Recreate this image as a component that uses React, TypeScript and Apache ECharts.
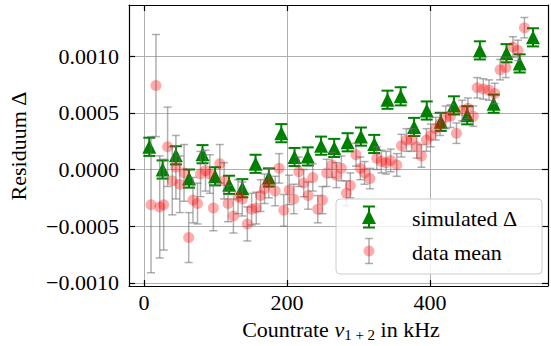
import React, { useEffect, useRef } from 'react';
import * as echarts from 'echarts';

// simulated Δ (green triangles)
const simX = [7.4, 26, 44.6, 63, 81.8, 99.4, 119, 137.5, 156, 174.6, 192, 210.5, 229, 247.6, 266, 284.7, 303.4, 322, 340.5, 359, 377.7, 395.4, 415, 433.4, 452, 469.7, 489, 507, 525.4, 544];
const simY = [0.0002, 0.0, 0.000125, -0.00008, 0.000135, -0.00006, -0.000135, -0.000165, 0.00005, -0.00007, 0.00032, 0.00011, 0.000115, 0.00021, 0.00019, 0.00024, 0.00029, 0.000225, 0.000615, 0.000645, 0.000375, 0.00052, 0.00042, 0.000565, 0.000478, 0.00105, 0.00058, 0.001025, 0.000935, 0.001165];
const simErr = [0.00008, 0.00008, 0.00008, 0.00008, 0.00008, 0.00008, 0.00008, 0.00008, 0.00008, 0.00008, 0.00008, 0.00008, 0.00008, 0.00008, 0.00008, 0.00008, 0.00008, 0.00008, 0.00008, 0.00008, 0.00008, 0.00008, 0.00008, 0.00008, 0.00008, 0.00008, 0.00008, 0.00008, 0.00008, 0.00008];

// data mean (red circles)
const meanX = [9.8, 16.7, 22, 27.5, 33, 39.5, 44.6, 50, 56, 62.5, 68.5, 74.8, 79, 86, 92, 97, 106, 112, 117.5, 125, 131.5, 137.5, 144.5, 150.5, 157, 163, 168.5, 174.6, 183.5, 189, 195.5, 203, 209.5, 216.5, 223.4, 229.5, 236, 243, 249.5, 255.5, 263, 269, 276, 283, 288.5, 296.5, 302.5, 308.5, 316, 325.5, 332, 338.5, 345, 353.5, 360, 367, 374, 381.5, 388, 395, 401, 408, 414, 422, 428.5, 437, 445, 453, 460.5, 466, 474.5, 482.5, 490.5, 498, 506, 516, 523, 532];
const meanY = [-0.00031, 0.00074, -0.00033, -0.00031, 0.0002, -0.0001, 0.00002, -0.00013, -0.00003, -0.0006, -0.00027, -0.0003, -0.00004, -0.00001, -0.00004, -0.00034, 0.00005, -0.0001, -0.0003, -0.00041, -0.00024, -0.00026, -0.00048, -0.00035, -0.00034, -0.00023, -0.00017, -0.00012, -0.00019, 0.00001, -0.00036, -0.00018, -0.00026, -0.00002, -0.00012, -0.00023, -0.00007, -0.00035, -0.00027, -0.00003, 0.00004, -0.00005, 0.00001, -0.00021, -0.00014, 0.00013, 0.00001, -0.00003, -0.00008, 0.0001, 0.00007, 0.00006, 0.00008, 0.00004, 0.00021, 0.00026, 0.00026, 0.0002, 0.00012, 0.00026, 0.0003, 0.00036, 0.0004, 0.00046, 0.00047, 0.00032, 0.00052, 0.00054, 0.00047, 0.00072, 0.00071, 0.0007, 0.00067, 0.00088, 0.0009, 0.00108, 0.00105, 0.00125];
const meanErr = [0.0006, 0.00045, 0.00045, 0.0004, 0.00035, 0.0003, 0.00028, 0.00025, 0.00025, 0.00022, 0.0002, 0.00018, 0.0002, 0.00018, 0.00017, 0.0002, 0.00017, 0.00016, 0.00016, 0.00015, 0.00015, 0.00015, 0.00015, 0.00014, 0.00014, 0.00014, 0.00013, 0.00013, 0.00013, 0.00013, 0.00014, 0.00013, 0.00013, 0.00013, 0.00012, 0.00012, 0.00012, 0.00012, 0.00012, 0.00012, 0.00011, 0.00011, 0.00011, 0.00011, 0.00011, 0.0001, 0.0001, 0.0001, 0.00009, 0.0001, 0.0001, 0.0001, 0.0001, 0.0001, 0.0001, 0.0001, 0.0001, 0.0001, 0.0001, 0.0001, 0.0001, 0.0001, 0.0001, 0.0001, 0.0001, 0.00009, 0.00009, 0.00009, 0.00009, 0.00009, 0.00009, 0.00009, 0.00009, 0.00009, 0.00009, 0.00009, 0.00009, 0.00009];

const xTicks = [0, 200, 400];
const yTicks = [-0.001, -0.0005, 0, 0.0005, 0.001];

const FONT = '"Liberation Serif", "Times New Roman", serif';
const GREEN = '#008000';
const RED = 'rgba(255,0,0,0.33)';
const GRAY = 'rgba(110,110,110,0.55)';

function errorBars(stroke: string, lineWidth: number, cap: number) {
  return (params: any, api: any) => {
    const x = api.value(0);
    const y = api.value(1);
    const e = api.value(2);
    const top = api.coord([x, y + e]);
    const bot = api.coord([x, y - e]);
    const hw = cap / 2;
    const style = { stroke, lineWidth };
    return {
      type: 'group',
      children: [
        { type: 'line', shape: { x1: top[0], y1: top[1], x2: bot[0], y2: bot[1] }, style },
        { type: 'line', shape: { x1: top[0] - hw, y1: top[1], x2: top[0] + hw, y2: top[1] }, style },
        { type: 'line', shape: { x1: bot[0] - hw, y1: bot[1], x2: bot[0] + hw, y2: bot[1] }, style },
      ],
    };
  };
}

export default function App() {
  const ref = useRef<HTMLDivElement>(null);
  useEffect(() => {
    if (!ref.current) return;
    const chart = echarts.init(ref.current, null, { renderer: 'svg' });
    const simData = simX.map((x, i) => [x, simY[i], simErr[i]]);
    const meanData = meanX.map((x, i) => [x, meanY[i], meanErr[i]]);
    const axisLineStyle = { color: '#000', width: 1.2 };
    const fmtY = (v: number) => {
      const s = Math.abs(v).toFixed(4);
      return v < -1e-12 ? '\u2212' + s : s;
    };
    const xMin = -21, xMax = 565, yMin = -0.001027, yMax = 0.00145;
    chart.setOption({
      animation: false,
      backgroundColor: '#fff',
      grid: { left: 129, right: 3, top: 5, bottom: 60, containLabel: false },
      xAxis: [
        {
          type: 'value', min: xMin, max: xMax, position: 'bottom',
          axisLine: { show: true, onZero: false, lineStyle: axisLineStyle },
          axisTick: { show: true, inside: true, length: 6, customValues: xTicks, lineStyle: axisLineStyle },
          axisLabel: { customValues: xTicks, margin: 5, fontSize: 22, fontFamily: FONT, color: '#000' },
          splitLine: { show: true, lineStyle: { color: '#b0b0b0', width: 1 } },
        },
        {
          type: 'value', min: xMin, max: xMax, position: 'top',
          axisLine: { show: true, onZero: false, lineStyle: axisLineStyle },
          axisTick: { show: true, inside: true, length: 6, customValues: xTicks, lineStyle: axisLineStyle },
          axisLabel: { show: false },
          splitLine: { show: false },
        },
      ],
      yAxis: [
        {
          type: 'value', min: yMin, max: yMax, position: 'left',
          axisLine: { show: true, onZero: false, lineStyle: axisLineStyle },
          axisTick: { show: true, inside: true, length: 6, customValues: yTicks, lineStyle: axisLineStyle },
          axisLabel: { customValues: yTicks, margin: 10, fontSize: 22, fontFamily: FONT, color: '#000', formatter: fmtY },
          splitLine: { show: true, lineStyle: { color: '#b0b0b0', width: 1 } },
        },
        {
          type: 'value', min: yMin, max: yMax, position: 'right',
          axisLine: { show: true, onZero: false, lineStyle: axisLineStyle },
          axisTick: { show: true, inside: true, length: 6, customValues: yTicks, lineStyle: axisLineStyle },
          axisLabel: { show: false },
          splitLine: { show: false },
        },
      ],
      series: [
        {
          type: 'custom', name: 'simErr', xAxisIndex: 0, yAxisIndex: 0, silent: true,
          renderItem: errorBars(GREEN, 2, 12),
          encode: { x: 0, y: 1 },
          data: simData, z: 2,
        },
        {
          type: 'scatter', name: 'simulated Δ', xAxisIndex: 0, yAxisIndex: 0, silent: true,
          symbol: 'triangle', symbolSize: 14,
          itemStyle: { color: GREEN, opacity: 1 },
          data: simData.map((d) => [d[0], d[1]]), z: 3,
        },
        {
          type: 'custom', name: 'meanErr', xAxisIndex: 0, yAxisIndex: 0, silent: true,
          renderItem: errorBars(GRAY, 1.5, 8),
          encode: { x: 0, y: 1 },
          data: meanData, z: 4,
        },
        {
          type: 'scatter', name: 'data mean', xAxisIndex: 0, yAxisIndex: 0, silent: true,
          symbol: 'circle', symbolSize: 11,
          itemStyle: { color: RED, opacity: 1 },
          data: meanData.map((d) => [d[0], d[1]]), z: 5,
        },
      ],
      graphic: [
        {
          type: 'text', x: 18, y: 146, rotation: Math.PI / 2, z: 100,
          style: { text: 'Residuum Δ', fontSize: 22, fontFamily: FONT, fill: '#000', align: 'center', verticalAlign: 'middle' },
        },
        {
          type: 'text', x: 341, y: 329, z: 100,
          style: {
            text: 'Countrate {i|ν}{s|1 + 2} in kHz',
            fontSize: 22, fontFamily: FONT, fill: '#000', align: 'center', verticalAlign: 'middle',
            rich: {
              i: { fontSize: 22, fontFamily: FONT, fontStyle: 'italic', fill: '#000', lineHeight: 26 },
              s: { fontSize: 15, fontFamily: FONT, fill: '#000', lineHeight: 14, verticalAlign: 'bottom' },
            },
          },
        },
        {
          type: 'rect', z: 100,
          shape: { x: 336, y: 199, width: 206, height: 75, r: 4 },
          style: { fill: 'rgba(255,255,255,0.8)', stroke: '#cccccc', lineWidth: 1 },
        },
        { type: 'line', z: 101, shape: { x1: 369, y1: 206.5, x2: 369, y2: 227.5 }, style: { stroke: GREEN, lineWidth: 2 } },
        { type: 'line', z: 101, shape: { x1: 363, y1: 206.5, x2: 375, y2: 206.5 }, style: { stroke: GREEN, lineWidth: 2 } },
        { type: 'line', z: 101, shape: { x1: 363, y1: 227.5, x2: 375, y2: 227.5 }, style: { stroke: GREEN, lineWidth: 2 } },
        { type: 'polygon', z: 102, shape: { points: [[369, 210], [362, 224], [376, 224]] }, style: { fill: GREEN } },
        { type: 'line', z: 101, shape: { x1: 369, y1: 238.5, x2: 369, y2: 263.5 }, style: { stroke: GRAY, lineWidth: 1.5 } },
        { type: 'line', z: 101, shape: { x1: 365, y1: 238.5, x2: 373, y2: 238.5 }, style: { stroke: GRAY, lineWidth: 1.5 } },
        { type: 'line', z: 101, shape: { x1: 365, y1: 263.5, x2: 373, y2: 263.5 }, style: { stroke: GRAY, lineWidth: 1.5 } },
        { type: 'circle', z: 102, shape: { cx: 369, cy: 251, r: 5.5 }, style: { fill: RED } },
        {
          type: 'text', x: 412, y: 218, z: 103,
          style: { text: 'simulated Δ', fontSize: 22, fontFamily: FONT, fill: '#000', align: 'left', verticalAlign: 'middle' },
        },
        {
          type: 'text', x: 412, y: 252, z: 103,
          style: { text: 'data mean', fontSize: 22, fontFamily: FONT, fill: '#000', align: 'left', verticalAlign: 'middle' },
        },
      ],
    });
    return () => chart.dispose();
  }, []);
  return <div ref={ref} style={{ width: 551, height: 346, position: 'absolute', left: 0, top: 0 }} />;
}
